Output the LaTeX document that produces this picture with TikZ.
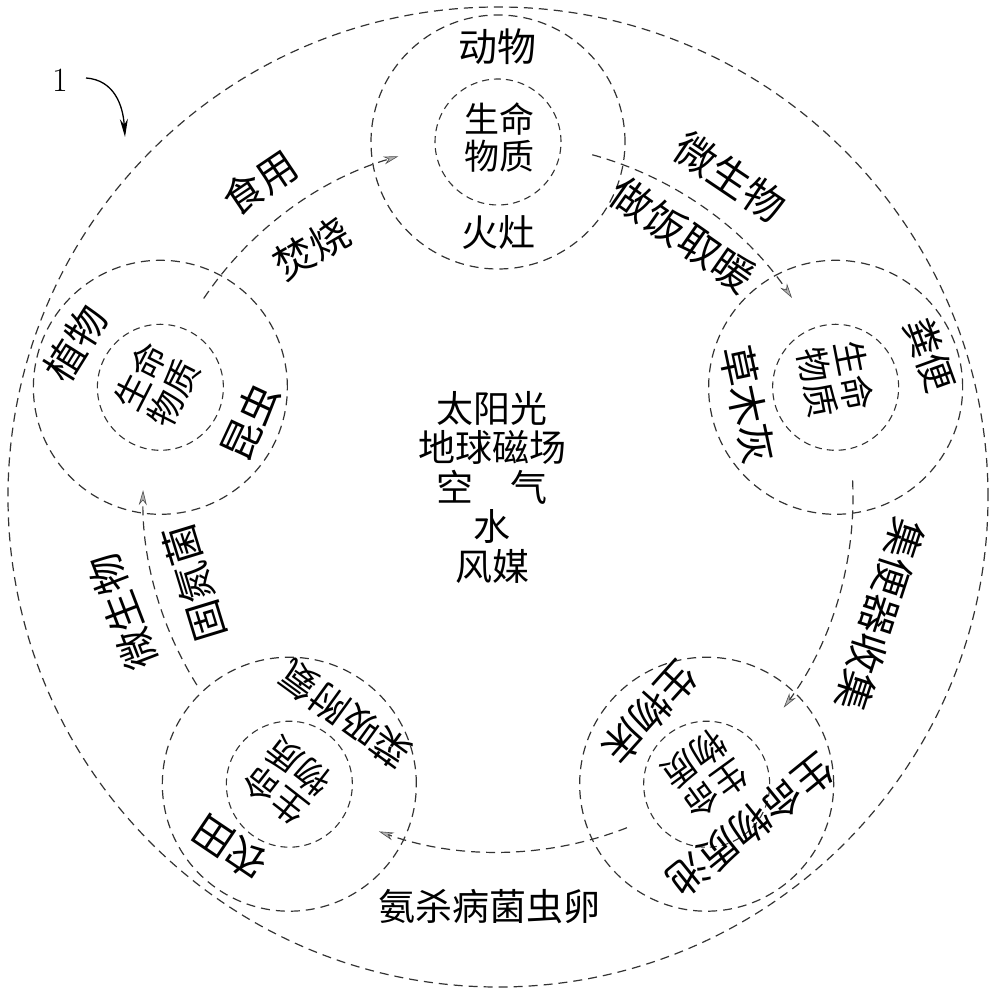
\documentclass[tikz,border=0pt]{standalone}
\usepackage{fontspec}
\newfontfamily\cjk{Noto Sans CJK SC}
\usetikzlibrary{arrows.meta,calc}
\begin{document}
\begin{tikzpicture}[x=1pt,y=1pt,
  dsh/.style={line width=1.2pt, draw=black!80, dash pattern=on 9pt off 6pt},
  dshi/.style={line width=1.1pt, draw=black!80, dash pattern=on 7pt off 5pt},
  ringc/.style={dsh, circle, minimum size=254pt, inner sep=0pt},
  corec/.style={dshi, circle, minimum size=126pt, inner sep=0pt},
  conn/.style={dsh, -{Stealth[length=15pt,width=8pt,fill=gray!60,color=black!70,line width=0.6pt]}},
  lbl/.style={font=\cjk\fontsize{#1}{#1}\selectfont, inner sep=0pt, align=center},
  coret/.style={font=\cjk\fontsize{35}{37}\selectfont, inner sep=0pt, align=center},
  ctrt/.style={font=\cjk\fontsize{37}{39.5}\selectfont, inner sep=0pt, align=center}
]
\useasboundingbox (0,0) rectangle (1000,993);
\coordinate (O) at (498,496);
% outer boundary
\node[dsh, circle, minimum size=980pt, inner sep=0pt] (outer) at (O) {};
% five stations
\node[ringc] (A) at ($(O)+(90:355)$) {};
\node[ringc] (S) at ($(O)+(18:355)$) {};
\node[ringc] (P) at ($(O)+(-54:355)$) {};
\node[ringc] (F) at ($(O)+(-126:355)$) {};
\node[ringc] (V) at ($(O)+(162:355)$) {};
\node[corec] (Ai) at (A) {};
\node[corec] (Si) at (S) {};
\node[corec] (Pi) at (P) {};
\node[corec] (Fi) at (F) {};
\node[corec] (Vi) at (V) {};
% animal (top)
\node[lbl=39] (a1) at (497,946) {动物};
\node[coret] (a2) at (499,855) {生命\\物质};
\node[lbl=37] (a3) at (498,760) {火灶};
% ash (right)
\node[lbl=38, rotate=-70] (s1) at (930,638) {粪便};
\node[coret, rotate=-79] (s2) at (836,614) {生命\\物质};
\node[lbl=40, rotate=-78] (s3) at (748,588) {草木灰};
% plant (left)
\node[lbl=40, rotate=58] (v1) at (76,650) {植物};
\node[coret, rotate=63] (v2) at (157,608) {生命\\物质};
\node[lbl=40, rotate=65] (v3) at (250,571) {昆虫};
% farmland (bottom left)
\node[lbl=40, rotate=146] (f1) at (230,145) {农田};
\node[coret, rotate=142] (f2) at (287,212) {生命\\物质};
\node[lbl=38, rotate=144] (f3) at (345,278) {菜吸附氨};
% pool (bottom right)
\node[lbl=40, rotate=-141] (p1) at (751,168) {生命物质池};
\node[coret, rotate=-144] (p2) at (705,219) {生命\\物质};
\node[lbl=40, rotate=-132] (p3) at (650,281) {生物床};
% connectors along the ring
\coordinate (c1) at ($(O)+(146:355)$);
\coordinate (c2) at ($(O)+(74.6:355)$);
\coordinate (c3) at ($(O)+(2.7:355)$);
\coordinate (c4) at ($(O)+(-68.7:355)$);
\coordinate (c5) at ($(O)+(-148:355)$);
\draw[conn] (c1) arc[start angle=146, end angle=106.3, radius=355];
\draw[conn] (c2) arc[start angle=74.6, end angle=34.1, radius=355];
\draw[conn] (c3) arc[start angle=2.7, end angle=-36.4, radius=355];
\draw[conn] (c4) arc[start angle=-68.7, end angle=-109.6, radius=355];
\draw[conn] (c5) arc[start angle=-148, end angle=-181.1, radius=355];
% connector labels
\node[lbl=40, rotate=34] (k1) at (260,810) {食用};
\node[lbl=40, rotate=30] (k2) at (312,745) {焚烧};
\node[lbl=41, rotate=-34] (k3) at (730,816) {微生物};
\node[lbl=41, rotate=-35] (k4) at (683,758) {做饭取暖};
\node[lbl=40, rotate=-108] (k5) at (880,378) {集便器收集};
\node[lbl=37] (k6) at (489,86) {氨杀病菌虫卵};
\node[lbl=40, rotate=111] (k7) at (123,381) {微生物};
\node[lbl=40, rotate=107] (k8) at (194,410) {固氮菌};
% centre
\node[ctrt] (ctr) at (492,506) {太阳光\\地球磁场\\空　气\\水\\风媒};
% reference numeral
\node[font=\fontsize{34}{34}\selectfont, inner sep=0pt] (n1) at (60,913) {1};
\coordinate (n1tip) at (125,856);
\draw[line width=1.3pt, -{Stealth[length=18pt,width=8pt]}] ([xshift=18pt,yshift=2pt]n1.east) .. controls +(28,-2) and +(-2,32) .. (n1tip);
\end{tikzpicture}
\end{document}
